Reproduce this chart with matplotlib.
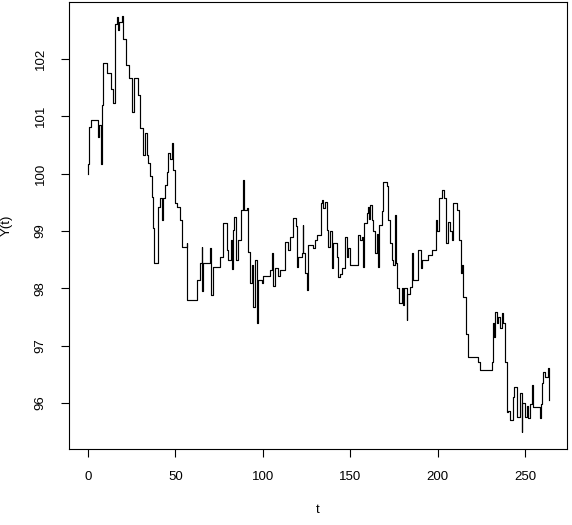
import matplotlib
matplotlib.use("Agg")
import matplotlib.pyplot as plt

# jump times and the value held from each time on (step path)
t = [0.0, 0.1, 0.8, 1.5, 5.9, 6.5, 7.2, 7.8, 8.4, 11.1, 13.0, 14.5, 15.3, 16.4, 17.4, 17.9,
     19.3, 20.2, 21.7, 23.6, 25.0, 26.3, 28.8, 29.7, 31.6, 32.6, 33.6, 34.5, 35.5, 36.4, 37.0,
     37.8, 40.2, 41.2, 42.1, 43.1, 44.0, 45.0, 45.9, 46.9, 47.9, 48.8, 49.8, 50.7, 52.6, 53.6,
     56.5, 56.8, 62.2, 64.1, 65.0, 65.4, 66.0, 69.8, 70.4, 71.7, 75.5, 77.4, 79.7, 80.3, 81.6,
     82.2, 83.1, 83.7, 84.7, 86.0, 87.3, 88.9, 89.2, 90.8, 91.7, 92.7, 93.6, 94.6, 95.5, 96.5,
     97.4, 99.4, 100.3, 104.1, 105.1, 106.0, 107.0, 108.9, 109.8, 112.7, 114.6, 115.6, 117.4,
     119.0, 119.7, 120.3, 122.2, 122.8, 123.2, 124.1, 125.1, 126.0, 128.9, 129.9, 130.8, 133.1,
     133.7, 134.6, 135.6, 136.5, 137.5, 138.4, 139.4, 140.3, 142.3, 143.2, 144.2, 145.1, 147.0,
     148.0, 148.9, 149.9, 154.6, 155.6, 156.6, 157.5, 157.9, 159.4, 160.4, 160.9, 161.3, 162.3,
     163.2, 164.2, 165.2, 166.1, 166.6, 168.0, 168.9, 170.9, 171.8, 172.8, 173.7, 174.7, 175.6,
     176.0, 176.6, 178.1, 179.5, 180.0, 181.0, 182.3, 182.7, 184.2, 185.2, 186.1, 189.0, 190.5,
     190.9, 194.7, 196.6, 199.1, 199.8, 200.6, 202.3, 203.7, 204.6, 206.1, 207.1, 208.1, 209.0,
     210.9, 212.4, 213.2, 213.8, 214.7, 216.2, 217.2, 222.8, 224.5, 231.0, 231.9, 232.3, 232.8,
     234.2, 234.7, 235.7, 236.7, 237.6, 238.6, 239.5, 240.5, 241.4, 243.3, 243.9, 245.2, 247.1,
     248.1, 248.4, 250.0, 251.0, 251.9, 252.9, 253.8, 254.4, 258.6, 258.9, 259.5, 260.5, 261.4,
     263.3, 263.5]
y = [100.0, 100.17, 100.82, 100.94, 100.64, 100.85, 100.17, 101.2, 101.93, 101.76, 101.48,
     101.23, 102.6, 102.72, 102.5, 102.65, 102.74, 102.34, 101.9, 101.67, 101.08, 101.67,
     101.37, 100.8, 100.33, 100.7, 100.33, 100.19, 99.95, 99.6, 99.05, 98.44, 99.42, 99.58,
     99.19, 99.58, 99.8, 100.03, 100.36, 100.25, 100.54, 100.07, 99.49, 99.42, 99.19, 98.72,
     98.79, 97.8, 98.15, 98.44, 98.72, 97.95, 98.44, 98.7, 97.89, 98.37, 98.55, 99.14, 98.67,
     98.5, 98.84, 98.33, 99.02, 99.25, 98.5, 98.84, 99.37, 99.89, 99.37, 99.4, 98.64, 98.09,
     98.4, 97.68, 98.5, 97.4, 98.15, 98.09, 98.22, 98.32, 98.62, 98.04, 98.36, 98.22, 98.32,
     98.81, 98.67, 98.9, 99.23, 99.08, 98.37, 98.55, 98.62, 99.1, 98.62, 98.27, 97.97, 98.75,
     98.7, 98.84, 98.93, 99.49, 99.54, 99.4, 99.5, 99.02, 98.72, 99.0, 98.36, 98.79, 98.55,
     98.2, 98.25, 98.36, 98.9, 98.55, 98.7, 98.41, 98.93, 98.84, 98.9, 98.37, 99.14, 99.32,
     99.42, 99.2, 99.46, 99.19, 99.0, 98.62, 98.95, 98.37, 99.1, 99.35, 99.86, 99.78, 99.19,
     98.79, 98.5, 98.4, 99.28, 98.45, 98.0, 97.74, 98.0, 97.71, 98.0, 97.45, 97.9, 98.02,
     98.62, 98.15, 98.67, 98.35, 98.5, 98.58, 98.67, 99.19, 99.0, 99.58, 99.72, 99.58, 98.79,
     99.16, 99.0, 98.84, 99.49, 99.37, 98.84, 98.27, 98.4, 97.85, 97.2, 96.8, 96.72, 96.58,
     96.72, 97.4, 97.15, 97.59, 97.4, 97.5, 97.3, 97.57, 97.4, 96.72, 95.84, 95.87, 95.7,
     96.1, 96.28, 95.76, 96.17, 95.5, 96.0, 95.76, 95.95, 95.74, 95.98, 96.31, 95.93, 95.74,
     95.98, 96.35, 96.54, 96.45, 96.61, 96.05]

xticks = [0, 50, 100, 150, 200, 250]
yticks = [96, 97, 98, 99, 100, 101, 102]

plt.rcParams['font.family'] = ['Liberation Sans', 'DejaVu Sans']
fig = plt.figure(figsize=(5.72, 5.25), dpi=100)
ax = fig.add_axes([69/572, 76/525, 498/572, 447/525])
ax.step(t, y, where='post', color='black', linewidth=0.85)
ax.set_xlim(-10.9, 274.0)
ax.set_ylim(95.2, 102.99)
ax.set_xticks(xticks)
ax.set_yticks(yticks)
ax.set_yticklabels([str(v) for v in yticks], rotation=90, va='center')
ax.tick_params(direction='out', length=6, width=0.8, labelsize=9.5, pad=10)
for s in ax.spines.values():
    s.set_linewidth(0.8)
ax.set_xlabel('t', fontsize=9.5, labelpad=15)
ax.set_ylabel('Y(t)', fontsize=9.5, labelpad=16)
fig.savefig('out.png', dpi=100)
